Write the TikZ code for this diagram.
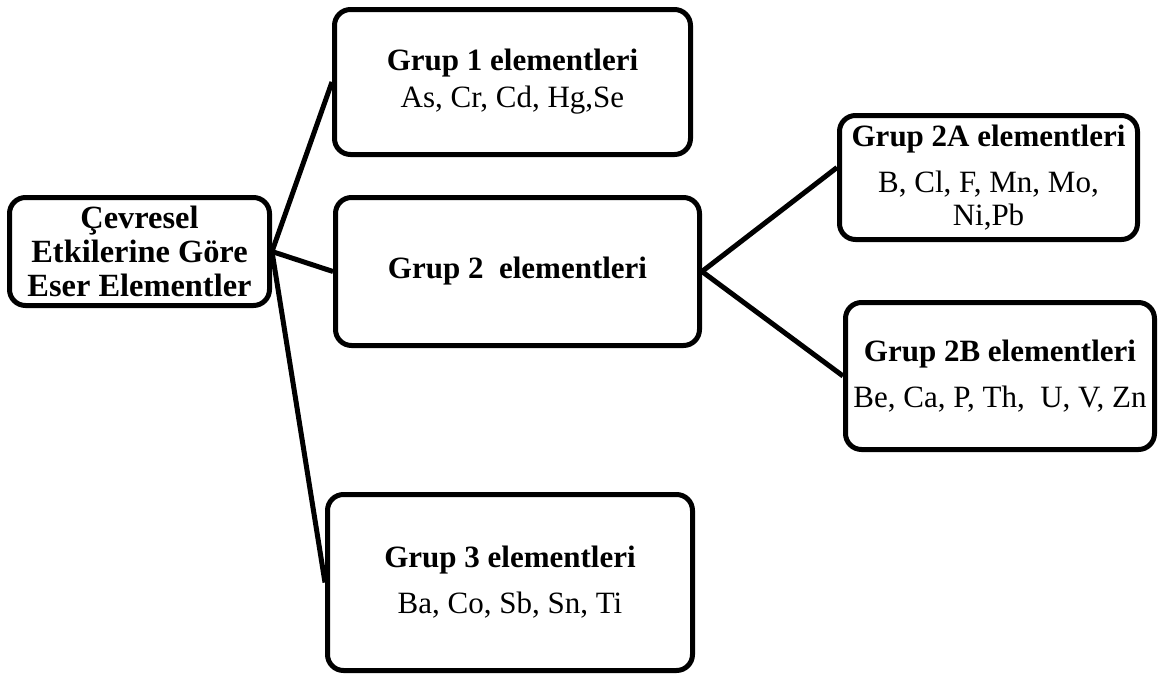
\documentclass[tikz,border=0pt]{standalone}
\usepackage{fontspec}
\setmainfont{Liberation Serif}
\usetikzlibrary{positioning}

\begin{document}
\begin{tikzpicture}[x=0.5pt, y=-0.5pt,
      grp/.style={draw, line width=2.5pt, rounded corners=8pt, align=center, inner sep=2pt,
        font=\fontsize{15.5}{16.5}\selectfont},
      link/.style={line width=2.5pt}]
    \useasboundingbox (0,0) rectangle (1158,676);
    \node[grp, font=\fontsize{16.2}{17}\selectfont\bfseries,
      minimum width=130pt, minimum height=54pt] (root) at (139.5,251.5)
      {Çevresel\\Etkilerine Göre\\Eser Elementler};
    \node[grp, minimum width=178pt, minimum height=72.5pt] (g1) at (512.5,82)
      {\textbf{Grup 1 elementleri}\\[2pt]As, Cr, Cd, Hg,Se};
    \node[grp, minimum width=182pt, minimum height=74pt] (g2) at (517.5,271.5)
      {\textbf{Grup 2\ \ elementleri}};
    \node[grp, minimum width=182.5pt, minimum height=88pt] (g3) at (510,582.5)
      {\textbf{Grup 3 elementleri}\\[6.5pt]Ba, Co, Sb, Sn, Ti};
    \node[grp, minimum width=149pt, minimum height=62pt] (g2a) at (988.5,177.5)
      {\textbf{Grup 2A elementleri}\\[6.5pt]B, Cl, F, Mn, Mo,\\Ni,Pb};
    \node[grp, minimum width=154.5pt, minimum height=73.5pt] (g2b) at (1000,376)
      {\textbf{Grup 2B elementleri}\\[6.5pt]Be, Ca, P, Th,\ \ U, V, Zn};
    \draw[link] (root.east) -- (g1.west);
    \draw[link] (root.east) -- (g2.west);
    \draw[link] (root.east) -- (g3.west);
    \draw[link] (g2.east) -- ([yshift=5pt]g2a.west);
    \draw[link] (g2.east) -- (g2b.west);
  \end{tikzpicture}
\end{document}
